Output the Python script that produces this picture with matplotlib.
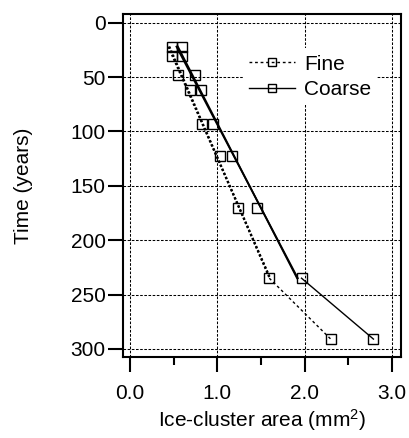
import matplotlib
matplotlib.use("Agg")
import matplotlib.pyplot as plt
from matplotlib.lines import Line2D
import numpy as np

plt.rcParams['font.family'] = ['Liberation Sans', 'DejaVu Sans']
plt.rcParams['mathtext.default'] = 'regular'

# sampling times (years) and mean ice-cluster area (mm2) for both grids
time = [22, 31, 48, 62, 93, 123, 170, 235, 291]
fine = [0.475, 0.48, 0.55, 0.685, 0.82, 1.03, 1.24, 1.595, 2.30]
coarse = [0.59, 0.59, 0.74, 0.81, 0.955, 1.165, 1.46, 1.965, 2.79]
n_fit = 8  # points used for the linear trends

fig = plt.figure(figsize=(4.09, 4.38), dpi=100)
ax = fig.add_axes([0.3007, 0.1849, 0.6797, 0.7831])

t = np.array(time, dtype=float)
styles = {
    'Fine': dict(ls=(0, (2, 2)), fit_ls=(0, (1, 1)), fit_lw=1.6),
    'Coarse': dict(ls='-', fit_ls='-', fit_lw=1.3),
}
for name, area in [('Fine', fine), ('Coarse', coarse)]:
    a = np.array(area, dtype=float)
    st = styles[name]
    # two linear trends over the early samples (with / without the first one)
    tt = t[:n_fit]
    for start in (0, 1):
        k, b = np.polyfit(t[start:n_fit], a[start:n_fit], 1)
        ax.plot(k * tt[[0, -1]] + b, tt[[0, -1]], color='black',
                ls=st['fit_ls'], lw=st['fit_lw'], zorder=3)
    # last segment of the measured curve
    ax.plot(a[n_fit - 1:], t[n_fit - 1:], color='black', ls=st['ls'], lw=1.0, zorder=3)
    ax.plot(a, t, 's', ms=7.5, mfc='none', mec='black', mew=1.0, zorder=4)

ax.set_xlim(-0.083, 3.106)
ax.set_ylim(307.5, -8)
ax.set_xticks([0, 1, 2, 3])
ax.set_xticklabels(['0.0', '1.0', '2.0', '3.0'])
ax.set_xticks([0.5, 1.5, 2.5], minor=True)
ax.set_yticks([0, 50, 100, 150, 200, 250, 300])

ax.grid(True, which='major', color='black', ls=(0, (2.5, 1.5)), lw=0.75)
ax.set_axisbelow(True)

for sp in ax.spines.values():
    sp.set_linewidth(1.5)
ax.tick_params(axis='both', which='major', direction='out', length=11, width=1.5,
               labelsize=15)
ax.tick_params(axis='x', which='major', pad=8.5)
ax.tick_params(axis='y', which='major', pad=1.5)
ax.tick_params(axis='x', which='minor', direction='out', length=6, width=1.5)

ax.set_xlabel('Ice-cluster area (mm$^2$)', fontsize=15)
ax.set_ylabel('Time (years)', fontsize=15)
ax.xaxis.set_label_coords(0.5, -0.145)
ax.yaxis.set_label_coords(-0.325, 0.5)

handles = [
    Line2D([], [], color='black', ls=(0, (2, 2)), lw=1.0, marker='s', ms=6,
           mfc='none', mec='black', mew=1.0),
    Line2D([], [], color='black', ls='-', lw=1.0, marker='s', ms=6,
           mfc='none', mec='black', mew=1.0),
]
leg = ax.legend(handles, ['Fine', 'Coarse'], loc='upper left',
                bbox_to_anchor=(0.43, 0.9), fontsize=15, frameon=True,
                fancybox=False, edgecolor='none', facecolor='white', framealpha=1,
                handlelength=2.2, handletextpad=0.45, labelspacing=0.3,
                borderpad=0.3, borderaxespad=0)
leg.set_zorder(5)

fig.savefig('out.png', dpi=100)
